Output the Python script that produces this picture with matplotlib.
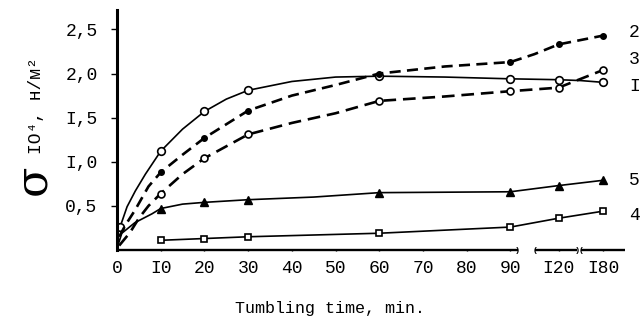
import numpy as np
import matplotlib
matplotlib.use("Agg")
import matplotlib.pyplot as plt
import matplotlib.transforms as mtransforms

MONO = ['Liberation Mono', 'DejaVu Sans Mono']

# ---- data ----
# curve 1 (solid, open circles)
t1 = [0.7, 2.3, 4.2, 6.5, 10, 15, 20, 25, 30, 40, 50, 60, 75, 90, 120, 150, 180]
v1 = [0.26, 0.49, 0.67, 0.86, 1.12, 1.37, 1.57, 1.71, 1.81, 1.91, 1.96, 1.97, 1.96, 1.94, 1.93, 1.92, 1.90]
m1 = [0, 4, 6, 8, 11, 13, 14, 16]
# curve 2 (dashed, filled dots)
t2 = [0.5, 1.9, 4.1, 7.2, 10, 15, 20, 30, 40, 50, 60, 75, 90, 105, 120, 150, 180]
v2 = [0.15, 0.28, 0.45, 0.72, 0.88, 1.08, 1.27, 1.58, 1.75, 1.87, 2.00, 2.08, 2.13, 2.22, 2.33, 2.38, 2.43]
m2 = [4, 6, 7, 10, 12, 14, 16]
# curve 3 (dashed, open dots)
t3 = [0.5, 3, 5, 7.2, 10, 15, 20, 30, 40, 50, 60, 75, 90, 105, 120, 150, 180]
v3 = [0.05, 0.20, 0.36, 0.50, 0.64, 0.86, 1.04, 1.31, 1.44, 1.55, 1.69, 1.74, 1.80, 1.82, 1.84, 1.94, 2.04]
m3 = [4, 6, 7, 10, 12, 14, 16]
# curve 4 (solid, open squares)
t4 = [10, 20, 30, 60, 90, 120, 180]
v4 = [0.11, 0.13, 0.15, 0.19, 0.26, 0.36, 0.44]
m4 = [0, 1, 2, 3, 4, 5, 6]
# curve 5 (solid, filled triangles)
t5 = [0, 1.1, 4.1, 8, 10, 15, 20, 30, 45, 60, 90, 120, 180]
v5 = [0.02, 0.19, 0.31, 0.41, 0.47, 0.52, 0.54, 0.57, 0.60, 0.65, 0.66, 0.73, 0.79]
m5 = [4, 6, 7, 9, 10, 11, 12]

curve_names = ['I', '2', '3', '4', '5']
label_y = [1.85, 2.47, 2.16, 0.39, 0.79]

xticks = [0, 10, 20, 30, 40, 50, 60, 70, 80, 90, 120, 180]
xticklabels = ['0', 'I0', '20', '30', '40', '50', '60', '70', '80', '90', 'I20', 'I80']
yticks = [0.5, 1.0, 1.5, 2.0, 2.5]
yticklabels = ['0,5', 'I,0', 'I,5', '2,0', '2,5']

# ---- broken time axis as a piecewise-linear scale ----
T_knots = [-100, 0, 90, 120, 180, 300]
U_knots = [-100, 0, 90, 101, 111.2, 131.6]

def fwd(t):
    return np.interp(t, T_knots, U_knots)

def inv(u):
    return np.interp(u, U_knots, T_knots)

fig = plt.figure(figsize=(6.43, 3.24), dpi=100)
ax = fig.add_axes([117 / 643, 1 - 250 / 324, (625 - 117) / 643, (250 - 10) / 324])
ax.set_xscale('function', functions=(fwd, inv))
ax.set_xlim(0, 209.4)
ax.set_ylim(0, 2.72)

solid = dict(color='black', lw=1.2)
ax.plot(t1, v1, marker='o', markevery=m1, ms=5.5, mfc='white', mec='black', mew=1.2, **solid)
ax.plot(t2, v2, ls=(0, (4.2, 2.4)), color='black', lw=1.9,
        marker='o', markevery=m2, ms=4, mfc='black', mec='black')
ax.plot(t3, v3, ls=(0, (4.8, 2.6)), color='black', lw=1.9,
        marker='o', markevery=m3, ms=5, mfc='white', mec='black', mew=1.2)
ax.plot(t4, v4, marker='s', markevery=m4, ms=5, mfc='white', mec='black', mew=1.2, **solid)
ax.plot(t5, v5, marker='^', markevery=m5, ms=5.5, mfc='black', mec='black', **solid)

# curve labels at the right
tr = mtransforms.blended_transform_factory(ax.transAxes, ax.transData)
for name, yv in zip(curve_names, label_y):
    ax.text(1.018, yv, name, transform=tr, ha='center', va='center',
            fontsize=13, family=MONO, clip_on=False)

# axes styling
for s in ['top', 'right', 'bottom']:
    ax.spines[s].set_visible(False)
ax.spines['left'].set_linewidth(2.2)
ax.set_xticks(xticks)
ax.set_xticklabels(xticklabels, family=MONO, fontsize=13)
ax.set_yticks(yticks)
ax.set_yticklabels(yticklabels, family=MONO, fontsize=13)
ax.tick_params(axis='x', length=2, width=1, pad=6, direction='inout')
ax.tick_params(axis='y', length=4, width=1, pad=10)

# broken x axis line
xt = ax.get_xaxis_transform()
for a, b in [(0, 94.5), (105.3, 145.3), (150.6, 209.4)]:
    ax.plot([a, b], [0, 0], color='black', lw=1.7, transform=xt, clip_on=False,
            solid_capstyle='butt')
for xb, ch in [(94.5, ')'), (105.3, '('), (145.3, ')'), (150.6, '(')]:
    ax.text(xb, 0, ch, transform=xt, ha='center', va='center', fontsize=6,
            family=MONO, fontweight='bold', clip_on=False)

# y label: sigma + units
fig.text(33 / 643, 1 - 180 / 324, 'σ', rotation=90, ha='center', va='center',
         fontsize=32, family=['DejaVu Serif'])
fig.text(36 / 643, 1 - 106 / 324, 'IO⁴, н/м²', rotation=90, ha='center', va='center',
         fontsize=13, family=MONO)

fig.text(330 / 643, 1 - 308 / 324, 'Tumbling time, min.', ha='center', va='center',
         fontsize=12, family=MONO)

fig.savefig('out.png', dpi=100, facecolor='white')
